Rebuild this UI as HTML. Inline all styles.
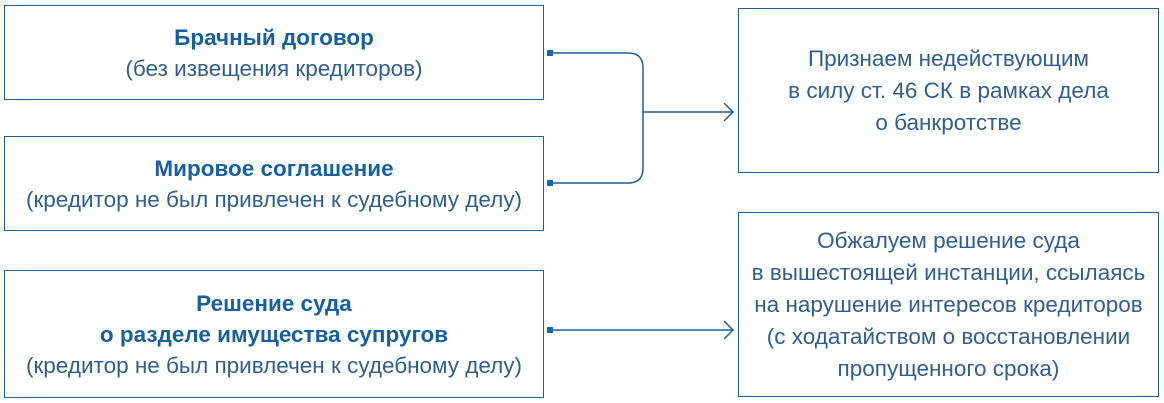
<!DOCTYPE html>
<html><head><meta charset="utf-8"><style>
body{margin:0;width:1164px;height:403px;background:#fff;position:relative;overflow:hidden;font-family:"Liberation Sans",sans-serif;}
.b{position:absolute;border:1.5px solid #1f5f94;box-sizing:border-box;display:flex;flex-direction:column;justify-content:center;align-items:center;text-align:center;color:#2f5f90;font-size:22.5px;line-height:31px;white-space:nowrap;}
.b strong{color:#17609f;}
.r{line-height:32px;}
svg{position:absolute;left:0;top:0}
</style></head><body>
<div class="b" style="left:4px;top:5px;width:540px;height:95px"><strong>Брачный договор</strong>(без извещения кредиторов)</div>
<div class="b" style="left:4px;top:136px;width:540px;height:95px"><strong>Мировое соглашение</strong>(кредитор не был привлечен к судебному делу)</div>
<div class="b" style="left:4px;top:270px;width:540px;height:128px"><strong>Решение суда<br>о разделе имущества супругов</strong>(кредитор не был привлечен к судебному делу)</div>
<div class="b r" style="left:738px;top:8px;width:421px;height:165px">Признаем недействующим<br>в силу ст. 46 СК в рамках дела<br>о банкротстве</div>
<div class="b r" style="left:738px;top:212px;width:421px;height:185px">Обжалуем решение суда<br>в вышестоящей инстанции, ссылаясь<br>на нарушение интересов кредиторов<br>(с ходатайством о восстановлении<br>пропущенного срока)</div>
<svg width="1164" height="403" fill="none" stroke="#1f5f94" stroke-width="1.5">
<rect x="547" y="50" width="6" height="6" fill="#1666b0" stroke="none"/>
<rect x="547" y="180" width="6" height="6" fill="#1666b0" stroke="none"/>
<rect x="547" y="327" width="6" height="6" fill="#1666b0" stroke="none"/>
<path d="M553 53 H628 Q643 53 643 68 V168 Q643 183 628 183 H553"/>
<path d="M643 112 H733 M724 103 L733 112 L724 121"/>
<path d="M553 330 H733 M724 321 L733 330 L724 339"/>
</svg>
</body></html>
